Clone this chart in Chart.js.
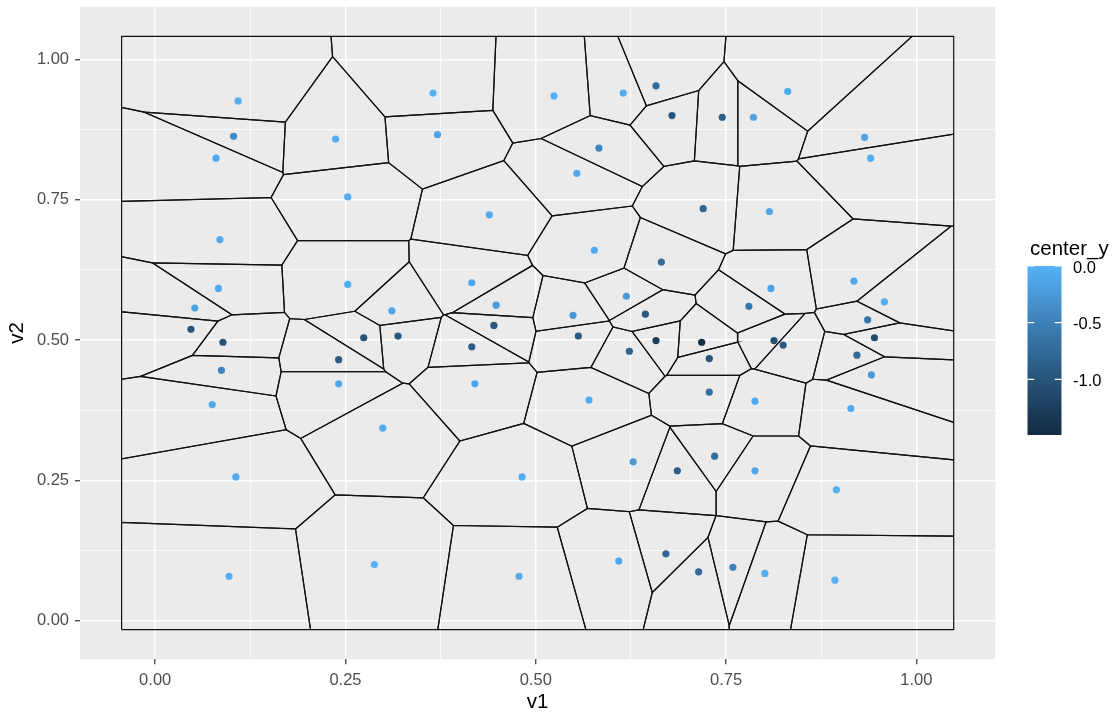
<!DOCTYPE html>
<html>
<head>
    <title>Voronoi tessellation: v1 vs v2</title>
    <script src="https://cdn.jsdelivr.net/npm/chart.js"></script>
    <style>
        body { margin: 0; background: #ffffff; }
        #wrap { width: 1118px; height: 713px; }
    </style>
</head>
<body>
    <div id="wrap"><canvas id="chart" width="1118" height="713"></canvas></div>

    <script>
        // point data
        const v1 = [0.109, 0.103, 0.080, 0.237, 0.253, 0.085, 0.253, 0.083, 0.052, 0.311,
                    0.047, 0.365, 0.524, 0.615, 0.658, 0.679, 0.371, 0.583, 0.554, 0.439,
                    0.577, 0.665, 0.416, 0.448, 0.619, 0.549, 0.644, 0.445, 0.831, 0.745,
                    0.786, 0.932, 0.940, 0.720, 0.807, 0.809, 0.780, 0.918, 0.958, 0.936,
                    0.089, 0.274, 0.241, 0.087, 0.241, 0.075, 0.299, 0.106, 0.288, 0.097,
                    0.319, 0.416, 0.556, 0.623, 0.658, 0.420, 0.570, 0.628, 0.686, 0.482,
                    0.609, 0.671, 0.478, 0.718, 0.813, 0.825, 0.728, 0.945, 0.922, 0.941,
                    0.728, 0.788, 0.914, 0.735, 0.788, 0.895, 0.714, 0.759, 0.801, 0.893];
        const v2 = [0.926, 0.863, 0.824, 0.858, 0.755, 0.679, 0.599, 0.592, 0.557, 0.552,
                    0.519, 0.940, 0.935, 0.940, 0.953, 0.900, 0.866, 0.842, 0.797, 0.723,
                    0.660, 0.639, 0.602, 0.562, 0.578, 0.544, 0.546, 0.526, 0.943, 0.897,
                    0.897, 0.861, 0.824, 0.734, 0.729, 0.592, 0.560, 0.605, 0.568, 0.536,
                    0.496, 0.504, 0.465, 0.446, 0.422, 0.385, 0.343, 0.256, 0.100, 0.079,
                    0.507, 0.488, 0.507, 0.480, 0.499, 0.422, 0.393, 0.283, 0.267, 0.256,
                    0.106, 0.119, 0.079, 0.496, 0.499, 0.491, 0.467, 0.504, 0.473, 0.438,
                    0.407, 0.391, 0.378, 0.293, 0.267, 0.233, 0.087, 0.095, 0.084, 0.072];
        const centerY = [-0.03, -0.40, -0.06, -0.05, -0.04, -0.05, -0.05, -0.08, -0.16, -0.10,
                         -1.00, -0.01, -0.03, -0.06, -0.75, -0.95, -0.12, -0.45, -0.08, -0.08,
                         -0.06, -0.72, -0.10, -0.20, -0.25, -0.25, -0.92, -0.95, -0.05, -0.88,
                         -0.14, -0.12, -0.03, -0.78, -0.10, -0.15, -0.60, -0.10, -0.05, -0.65,
                         -1.00, -1.02, -0.90, -0.45, -0.10, -0.05, -0.05, -0.05, 0.00, -0.02,
                         -0.95, -0.90, -0.92, -0.85, -1.30, -0.12, -0.05, -0.25, -0.88, -0.05,
                         -0.10, -0.80, -0.05, -1.49, -1.05, -0.92, -1.00, -1.10, -0.75, -0.25,
                         -0.68, -0.05, -0.08, -0.70, -0.10, -0.02, -0.75, -0.50, -0.05, -0.01];

        const xTickLabels = ['0.00', '0.25', '0.50', '0.75', '1.00'];
        const yTickLabels = ['0.00', '0.25', '0.50', '0.75', '1.00'];
        const legendBreaks = [0, -0.5, -1.0];
        const legendLabels = ['0.0', '-0.5', '-1.0'];

        const FONT = '"Liberation Sans", Arial, sans-serif';
        const LOW = '#132B43', HIGH = '#56B1F7';

        // --- colour scale, interpolated in Lab like ggplot's default gradient
        const WP = [0.95047, 1, 1.08883];
        function hexToRgb(h) { return [1, 3, 5].map(i => parseInt(h.slice(i, i + 2), 16)); }
        function toLin(c) { c /= 255; return c <= 0.04045 ? c / 12.92 : Math.pow((c + 0.055) / 1.055, 2.4); }
        function fromLin(c) {
            c = c <= 0.0031308 ? 12.92 * c : 1.055 * Math.pow(c, 1 / 2.4) - 0.055;
            return Math.round(Math.min(1, Math.max(0, c)) * 255);
        }
        function rgbToLab(rgb) {
            const [r, g, b] = rgb.map(toLin);
            const X = (0.4124564 * r + 0.3575761 * g + 0.1804375 * b) / WP[0];
            const Y = (0.2126729 * r + 0.7151522 * g + 0.0721750 * b) / WP[1];
            const Z = (0.0193339 * r + 0.1191920 * g + 0.9503041 * b) / WP[2];
            const f = t => t > 0.008856 ? Math.cbrt(t) : 7.787 * t + 16 / 116;
            const fx = f(X), fy = f(Y), fz = f(Z);
            return [116 * fy - 16, 500 * (fx - fy), 200 * (fy - fz)];
        }
        function labToRgb(lab) {
            const fy = (lab[0] + 16) / 116, fx = fy + lab[1] / 500, fz = fy - lab[2] / 200;
            const fi = t => t * t * t > 0.008856 ? t * t * t : (t - 16 / 116) / 7.787;
            const X = fi(fx) * WP[0], Y = fi(fy) * WP[1], Z = fi(fz) * WP[2];
            return [
                3.2404542 * X - 1.5371385 * Y - 0.4985314 * Z,
                -0.9692660 * X + 1.8760108 * Y + 0.0415560 * Z,
                0.0556434 * X - 0.2040259 * Y + 1.0572252 * Z
            ].map(fromLin);
        }
        const labLow = rgbToLab(hexToRgb(LOW)), labHigh = rgbToLab(hexToRgb(HIGH));
        const cMin = Math.min(...centerY), cMax = Math.max(...centerY);
        function colourFor(v) {
            const t = (v - cMin) / (cMax - cMin);
            const lab = labLow.map((l, i) => l + t * (labHigh[i] - l));
            const [r, g, b] = labToRgb(lab);
            return 'rgb(' + r + ',' + g + ',' + b + ')';
        }

        // --- window like deldir: point range widened by 10%
        const xMin = Math.min(...v1), xMax = Math.max(...v1);
        const yMin = Math.min(...v2), yMax = Math.max(...v2);
        const rw = [xMin - 0.1 * (xMax - xMin), xMax + 0.1 * (xMax - xMin),
                    yMin - 0.1 * (yMax - yMin), yMax + 0.1 * (yMax - yMin)];
        // axis limits with ggplot's 5% expansion
        const xLim = [rw[0] - 0.05 * (rw[1] - rw[0]), rw[1] + 0.05 * (rw[1] - rw[0])];
        const yLim = [rw[2] - 0.05 * (rw[3] - rw[2]), rw[3] + 0.05 * (rw[3] - rw[2])];

        // --- Voronoi cells by clipping the window with bisector half-planes
        function clip(poly, a, b, c) {
            const out = [];
            for (let k = 0; k < poly.length; k++) {
                const P = poly[k], Q = poly[(k + 1) % poly.length];
                const dp = a * P[0] + b * P[1] - c, dq = a * Q[0] + b * Q[1] - c;
                if (dp <= 0) out.push(P);
                if ((dp < 0 && dq > 0) || (dp > 0 && dq < 0)) {
                    const t = dp / (dp - dq);
                    out.push([P[0] + t * (Q[0] - P[0]), P[1] + t * (Q[1] - P[1])]);
                }
            }
            return out;
        }
        const cells = v1.map((xi, i) => {
            const yi = v2[i];
            let poly = [[rw[0], rw[2]], [rw[1], rw[2]], [rw[1], rw[3]], [rw[0], rw[3]]];
            v1.forEach((xj, j) => {
                if (j === i) return;
                const yj = v2[j];
                poly = clip(poly, xj - xi, yj - yi, (xj * xj + yj * yj - xi * xi - yi * yi) / 2);
            });
            poly.push(poly[0]);
            return poly.map(p => ({x: p[0], y: p[1]}));
        });

        const gridVals = [0, 0.125, 0.25, 0.375, 0.5, 0.625, 0.75, 0.875, 1];
        const isMajor = v => Math.abs(v * 4 - Math.round(v * 4)) < 1e-9;

        function axisOptions(lim, labels, title, fit) {
            return {
                type: 'linear',
                min: lim[0],
                max: lim[1],
                afterBuildTicks: s => { s.ticks = gridVals.map(v => ({value: v})); },
                afterFit: s => {
                    fit(s);
                    // no extra room for edge labels: the panel is fixed like ggplot's
                    s.paddingTop = 0; s.paddingBottom = 0;
                    s.paddingLeft = 0; s.paddingRight = 0;
                },
                border: { display: false },
                grid: {
                    color: '#ffffff',
                    lineWidth: c => isMajor(c.tick.value) ? 1.5 : 0.75,
                    tickLength: 5,
                    tickWidth: 1.2,
                    tickColor: c => isMajor(c.tick.value) ? '#333333' : 'rgba(0,0,0,0)'
                },
                ticks: {
                    autoSkip: false,
                    maxRotation: 0,
                    color: '#4d4d4d',
                    font: { family: FONT, size: 16.5 },
                    padding: 6,
                    callback: v => isMajor(v) ? labels[Math.round(v * 4)] : ''
                },
                title: {
                    display: true,
                    text: title,
                    color: '#000000',
                    font: { family: FONT, size: 20.5, lineHeight: 1 },
                    padding: { top: 7, bottom: 0 }
                }
            };
        }

        const panelBg = {
            id: 'panelBg',
            beforeDraw(chart) {
                const a = chart.chartArea, ctx = chart.ctx;
                ctx.save();
                ctx.fillStyle = '#ebebeb';
                ctx.fillRect(a.left, a.top, a.right - a.left, a.bottom - a.top);
                ctx.restore();
            }
        };

        const colourbar = {
            id: 'colourbar',
            afterDraw(chart) {
                const ctx = chart.ctx;
                const bx = 1027.5, bw = 34, by = 266, bh = 169;
                ctx.save();
                ctx.fillStyle = '#000000';
                ctx.font = '20.5px ' + FONT;
                ctx.textBaseline = 'alphabetic';
                ctx.fillText('center_y', 1030, 255);
                const toY = v => by + (cMax - v) / (cMax - cMin) * bh;
                const grad = ctx.createLinearGradient(0, by, 0, by + bh);
                for (let k = 0; k <= 60; k++) {
                    grad.addColorStop(k / 60, colourFor(cMax - k / 60 * (cMax - cMin)));
                }
                ctx.fillStyle = grad;
                ctx.fillRect(bx, by, bw, bh);
                ctx.strokeStyle = '#ffffff';
                ctx.lineWidth = 1.2;
                ctx.fillStyle = '#000000';
                ctx.font = '16.5px ' + FONT;
                ctx.textBaseline = 'middle';
                legendBreaks.forEach((b, i) => {
                    const y = toY(b);
                    ctx.beginPath();
                    ctx.moveTo(bx, y); ctx.lineTo(bx + bw / 5, y);
                    ctx.moveTo(bx + bw - bw / 5, y); ctx.lineTo(bx + bw, y);
                    ctx.stroke();
                    ctx.fillText(legendLabels[i], 1073, y + 2);
                });
                ctx.restore();
            }
        };

        const cellSets = cells.map(c => ({
            data: c,
            showLine: true,
            pointRadius: 0,
            borderColor: '#111111',
            borderWidth: 1.2,
            fill: false,
            tension: 0,
            order: 1
        }));

        new Chart(document.getElementById('chart'), {
            type: 'scatter',
            data: {
                datasets: [{
                    data: v1.map((x, i) => ({x: x, y: v2[i]})),
                    pointRadius: 3.6,
                    pointBorderWidth: 0,
                    pointBackgroundColor: centerY.map(colourFor),
                    order: 0
                }].concat(cellSets)
            },
            options: {
                responsive: false,
                animation: false,
                devicePixelRatio: 1,
                layout: { padding: { left: 0, top: 6.7, right: 122.7, bottom: 0 } },
                plugins: { legend: { display: false }, tooltip: { enabled: false } },
                scales: {
                    x: axisOptions(xLim, xTickLabels, 'v1', s => { s.height = 53.7; }),
                    y: axisOptions(yLim, yTickLabels, 'v2', s => { s.width = 80; })
                }
            },
            plugins: [panelBg, colourbar]
        });
    </script>
</body>
</html>
